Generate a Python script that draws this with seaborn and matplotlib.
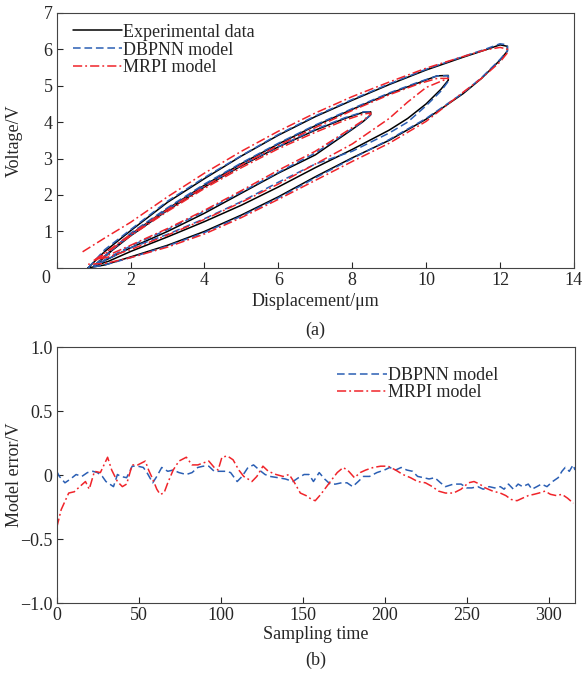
import matplotlib
matplotlib.use("Agg")
import matplotlib.pyplot as plt
from matplotlib.lines import Line2D
from matplotlib.ticker import FixedLocator, FixedFormatter
import pandas as pd
import seaborn as sns

# ---------- (a) hysteresis loops: displacement (um) vs voltage (V) ----------
# shared displacement samples for each branch (up = rising, down = falling)
outer_up_x = [0.85, 1.3, 2.0, 3.0, 4.0, 5.0, 6.0, 7.0, 8.0, 9.0, 10.0, 11.0, 11.6, 12.0, 12.2]
outer_dn_x = [12.2, 12.0, 11.5, 11.0, 10.0, 9.0, 8.0, 7.0, 6.0, 5.0, 4.0, 3.0, 2.0, 1.3, 0.85]
mid_up_x = [1.0, 1.5, 2.0, 3.0, 4.0, 5.0, 6.0, 7.0, 8.0, 9.0, 9.8, 10.3, 10.6]
mid_dn_x = [10.6, 10.4, 10.0, 9.5, 9.0, 8.0, 7.0, 6.0, 5.0, 4.0, 3.0, 2.0, 1.4, 1.0]
inner_up_x = [1.05, 1.5, 2.0, 3.0, 4.0, 5.0, 6.0, 7.0, 7.8, 8.3, 8.5]
inner_dn_x = [8.5, 8.3, 8.0, 7.0, 6.0, 5.0, 4.0, 3.0, 2.0, 1.4, 1.05]

# experimental data
exp_outer_up = [0.0, 0.45, 1.02, 1.8, 2.45, 3.07, 3.64, 4.15, 4.6, 5.03, 5.43, 5.78, 5.98, 6.12, 6.08]
exp_outer_dn = [5.95, 5.7, 5.2, 4.78, 4.08, 3.5, 3.02, 2.5, 1.95, 1.45, 1.0, 0.62, 0.3, 0.08, 0.0]
exp_mid_up = [0.05, 0.5, 0.92, 1.62, 2.27, 2.86, 3.4, 3.9, 4.35, 4.78, 5.08, 5.27, 5.28]
exp_mid_dn = [5.15, 4.9, 4.5, 4.1, 3.78, 3.25, 2.75, 2.22, 1.72, 1.27, 0.85, 0.45, 0.18, 0.05]
exp_inner_up = [0.08, 0.48, 0.88, 1.58, 2.22, 2.8, 3.32, 3.78, 4.1, 4.27, 4.28]
exp_inner_dn = [4.2, 4.02, 3.8, 3.1, 2.6, 2.05, 1.5, 1.0, 0.55, 0.25, 0.08]

# DBPNN model
dbp_outer_up = [0.0, 0.5, 1.05, 1.83, 2.48, 3.08, 3.66, 4.17, 4.62, 5.05, 5.45, 5.8, 6.0, 6.15, 6.12]
dbp_outer_dn = [5.95, 5.72, 5.22, 4.8, 4.1, 3.52, 3.0, 2.47, 1.92, 1.42, 0.97, 0.6, 0.28, 0.08, 0.0]
dbp_mid_up = [0.05, 0.5, 0.95, 1.65, 2.3, 2.88, 3.42, 3.92, 4.37, 4.8, 5.1, 5.27, 5.27]
dbp_mid_dn = [5.12, 4.85, 4.45, 4.0, 3.7, 3.2, 2.85, 2.35, 1.82, 1.35, 0.92, 0.55, 0.25, 0.05]
dbp_inner_up = [0.08, 0.5, 0.9, 1.6, 2.25, 2.82, 3.33, 3.8, 4.12, 4.28, 4.28]
dbp_inner_dn = [4.2, 4.02, 3.82, 3.15, 2.62, 2.08, 1.55, 1.05, 0.6, 0.28, 0.08]

# MRPI model
mrpi_outer_up_x = [0.7, 1.3, 2.0, 3.0, 4.0, 5.0, 6.0, 7.0, 8.0, 9.0, 10.0, 11.0, 11.6, 12.0, 12.2]
mrpi_outer_up = [0.44, 0.82, 1.25, 1.95, 2.6, 3.2, 3.75, 4.25, 4.7, 5.1, 5.48, 5.8, 5.98, 6.05, 6.0]
mrpi_outer_dn = [5.9, 5.65, 5.2, 4.82, 4.02, 3.42, 2.92, 2.4, 1.88, 1.38, 0.93, 0.57, 0.28, 0.12, 0.1]
mrpi_mid_up = [0.2, 0.55, 0.92, 1.6, 2.23, 2.82, 3.36, 3.85, 4.32, 4.75, 5.05, 5.2, 5.2]
mrpi_mid_dn = [5.2, 5.12, 4.95, 4.55, 4.1, 3.4, 2.85, 2.3, 1.8, 1.33, 0.9, 0.5, 0.3, 0.2]
mrpi_inner_up = [0.22, 0.52, 0.88, 1.55, 2.18, 2.75, 3.27, 3.72, 4.05, 4.22, 4.25]
mrpi_inner_dn = [4.22, 4.05, 3.85, 3.2, 2.68, 2.12, 1.58, 1.08, 0.62, 0.35, 0.22]

# ---------- (b) model error vs sampling time ----------
dbp_t = [0, 1.6, 5, 8.4, 11.8, 15.3, 18.7, 22, 24.8, 27.8, 30, 32.3, 34.6, 37, 39, 42.6,
         46, 49.4, 52.8, 55, 58.5, 61, 64, 67.7, 71, 74.5, 79, 82.5, 86, 89.3, 92.7, 96,
         99.5, 103, 106, 110, 113, 116.6, 120, 123.5, 127, 130, 134.9, 139.4, 144, 147.4,
         150.8, 153.8, 156.5, 160, 163.3, 166.7, 170, 173.6, 177, 180.4, 183.8, 187, 190.7,
         195.2, 199.8, 203, 206.6, 210, 213.4, 216.9, 220, 223.7, 227, 230.5, 234, 237,
         241.9, 246.5, 250, 253, 256.7, 260, 263.6, 267, 270.4, 272.7, 275.4, 278.4, 281.3,
         284, 287.5, 289.7, 292.7, 295.5, 298.9, 302.3, 305.7, 308, 310, 312.5, 314.8, 316]
dbp_err = [0.03, -0.01, -0.06, -0.03, 0.005, -0.01, 0.02, 0.03, 0.02, -0.01, -0.05, -0.07,
           -0.09, 0.005, -0.01, -0.02, 0.07, 0.07, 0.06, 0.02, -0.06, -0.01, 0.06, 0.03, 0.04,
           0.02, 0.005, 0.02, 0.06, 0.07, 0.07, 0.03, 0.03, 0.03, 0.02, -0.05, -0.01, 0.06,
           0.08, 0.04, 0.005, -0.01, -0.02, -0.03, -0.05, -0.02, 0.005, 0.005, -0.05, 0.02,
           -0.03, -0.07, -0.07, -0.06, -0.06, -0.09, -0.05, -0.01, -0.01, 0.02, 0.04, 0.06,
           0.04, 0.06, 0.04, 0.03, -0.01, -0.02, -0.03, -0.02, -0.06, -0.09, -0.07, -0.07,
           -0.10, -0.10, -0.09, -0.11, -0.09, -0.10, -0.09, -0.11, -0.07, -0.11, -0.07, -0.09,
           -0.07, -0.11, -0.09, -0.07, -0.09, -0.05, -0.02, 0.03, 0.06, 0.03, 0.08, 0.04]

mrpi_t = [0, 2.7, 7.3, 10.7, 14, 17.5, 19.8, 23, 26.6, 31, 33.5, 37, 40, 42.6, 46, 49.4,
          54, 56, 58.5, 61, 63, 65.4, 67.7, 71, 74.5, 79, 82.5, 86, 90.4, 92.7, 96, 98.4,
          100.7, 104, 107.5, 111, 114, 116.6, 119, 122, 125.7, 129, 133.7, 138, 141.7, 145,
          148.5, 152, 155.4, 157.6, 161, 164.5, 168, 171, 174.7, 178, 181.5, 185, 188.4, 193,
          197.5, 202, 206.6, 211, 215.7, 220, 224.8, 229, 232.8, 237, 241.9, 246.5, 251,
          254.4, 257.8, 261.3, 265.8, 270.4, 273.8, 277, 280.6, 284, 287.5, 291, 294, 297.7,
          301, 304.6, 308, 311.4, 315]
mrpi_err = [-0.41, -0.27, -0.14, -0.13, -0.09, -0.05, -0.11, 0.03, 0.02, 0.14, 0.04, -0.05,
            -0.09, -0.07, 0.08, 0.08, 0.11, 0.04, -0.03, -0.11, -0.15, -0.14, -0.06, 0.04,
            0.11, 0.14, 0.08, 0.08, 0.10, 0.11, 0.06, 0.04, 0.14, 0.15, 0.12, 0.04, -0.01,
            -0.03, -0.05, -0.01, 0.07, 0.03, 0.005, -0.01, 0.005, -0.06, -0.14, -0.16, -0.19,
            -0.20, -0.15, -0.09, -0.03, 0.02, 0.06, 0.03, -0.02, 0.02, 0.04, 0.06, 0.07, 0.07,
            0.04, 0.005, -0.02, -0.05, -0.06, -0.09, -0.125, -0.14, -0.14, -0.11, -0.06, -0.05,
            -0.07, -0.10, -0.125, -0.14, -0.16, -0.19, -0.20, -0.18, -0.16, -0.15, -0.14,
            -0.125, -0.15, -0.16, -0.15, -0.18, -0.22]

series_names = ["Experimental data", "DBPNN model", "MRPI model"]
colors = {"Experimental data": "black", "DBPNN model": "#2b5fb4", "MRPI model": "#f0242a"}
dash_map = {"Experimental data": "", "DBPNN model": (5, 2.5), "MRPI model": (6, 2, 1.2, 2)}


def loop_rows(name, loops):
    rows = []
    for k, (xu, yu, xd, yd) in enumerate(loops):
        for i, (x, y) in enumerate(zip(list(xu) + list(xd), list(yu) + list(yd))):
            rows.append((name, k, i, x, y))
    return rows


rows = []
rows += loop_rows("Experimental data", [
    (outer_up_x, exp_outer_up, outer_dn_x, exp_outer_dn),
    (mid_up_x, exp_mid_up, mid_dn_x, exp_mid_dn),
    (inner_up_x, exp_inner_up, inner_dn_x, exp_inner_dn)])
rows += loop_rows("DBPNN model", [
    (outer_up_x, dbp_outer_up, outer_dn_x, dbp_outer_dn),
    (mid_up_x, dbp_mid_up, mid_dn_x, dbp_mid_dn),
    (inner_up_x, dbp_inner_up, inner_dn_x, dbp_inner_dn)])
rows += loop_rows("MRPI model", [
    (mrpi_outer_up_x, mrpi_outer_up, outer_dn_x, mrpi_outer_dn),
    (mid_up_x, mrpi_mid_up, mid_dn_x, mrpi_mid_dn),
    (inner_up_x, mrpi_inner_up, inner_dn_x, mrpi_inner_dn)])
df_a = pd.DataFrame(rows, columns=["series", "loop", "order", "disp", "volt"])
df_a["unit"] = df_a["series"] + df_a["loop"].astype(str)

df_b = pd.concat([
    pd.DataFrame({"series": "DBPNN model", "t": dbp_t, "err": dbp_err}),
    pd.DataFrame({"series": "MRPI model", "t": mrpi_t, "err": mrpi_err}),
], ignore_index=True)

sns.set_style("ticks")
plt.rcParams["font.family"] = ["Liberation Serif", "DejaVu Serif"]
fs = 13

fig = plt.figure(figsize=(5.85, 6.73), dpi=100)
ax1 = fig.add_axes([0.097, 0.602, 0.884, 0.379])
ax2 = fig.add_axes([0.097, 0.104, 0.886, 0.380])

sns.lineplot(data=df_a, x="disp", y="volt", hue="series", style="series",
             units="unit", estimator=None, sort=False, palette=colors,
             dashes=dash_map, hue_order=series_names, style_order=series_names,
             linewidth=1.1, legend=False, ax=ax1)
ax1.set_xlim(0, 14)
ax1.set_ylim(0, 7)
ax1.set_xticks(range(0, 15, 2))
ax1.set_xticklabels([""] + [str(v) for v in range(2, 15, 2)])
ax1.set_yticks(range(0, 8))
ax1.set_yticklabels([""] + [str(v) for v in range(1, 8)])
ax1.text(-0.021, -0.04, "0", transform=ax1.transAxes, ha="center", va="center", fontsize=fs)
ax1.set_xlabel("Displacement/μm", fontsize=fs, labelpad=3)
ax1.set_ylabel("Voltage/V", fontsize=fs)
ax1.yaxis.set_label_coords(-0.066, 0.5)

sns.lineplot(data=df_b, x="t", y="err", hue="series", style="series",
             estimator=None, sort=False, palette=colors, dashes=dash_map,
             hue_order=series_names[1:], style_order=series_names[1:],
             linewidth=1.1, legend=False, ax=ax2)
ax2.set_xlim(0, 316)
ax2.set_ylim(-1, 1)
ax2.set_xticks(range(0, 301, 50))
ax2.yaxis.set_major_locator(FixedLocator([-1.0, -0.5, 0.0, 0.5, 1.0]))
ax2.yaxis.set_major_formatter(FixedFormatter(["\u22121.0", "\u22120.5", "0", "0.5", "1.0"]))
ax2.set_xlabel("Sampling time", fontsize=fs, labelpad=1)
ax2.set_ylabel("Model error/V", fontsize=fs)
ax2.yaxis.set_label_coords(-0.066, 0.5)

for ax in (ax1, ax2):
    ax.tick_params(direction="in", length=4, width=0.8, labelsize=fs,
                   top=False, right=False, pad=3)
    for sp in ax.spines.values():
        sp.set_linewidth(0.8)
        sp.set_color("#444444")


def handle(name):
    d = dash_map[name]
    ls = "-" if d == "" else (0, d)
    return Line2D([0], [0], color=colors[name], lw=1.1, linestyle=ls)


ax1.legend([handle(n) for n in series_names], series_names, loc="upper left",
           frameon=False, fontsize=fs, handlelength=2.75, handletextpad=0.05,
           labelspacing=0.05, borderaxespad=0.2, bbox_to_anchor=(0.01, 1.0))
ax2.legend([handle(n) for n in series_names[1:]], series_names[1:], loc="upper left",
           frameon=False, fontsize=fs, handlelength=2.75, handletextpad=0.05,
           labelspacing=0.0, bbox_to_anchor=(0.51, 0.985))

fig.text(0.5 * (0.097 + 0.981), 1 - 330 / 673, "(a)", ha="center", va="center", fontsize=fs)
fig.text(0.5 * (0.097 + 0.981), 1 - 660 / 673, "(b)", ha="center", va="center", fontsize=fs)

fig.savefig("out.png", dpi=100)
